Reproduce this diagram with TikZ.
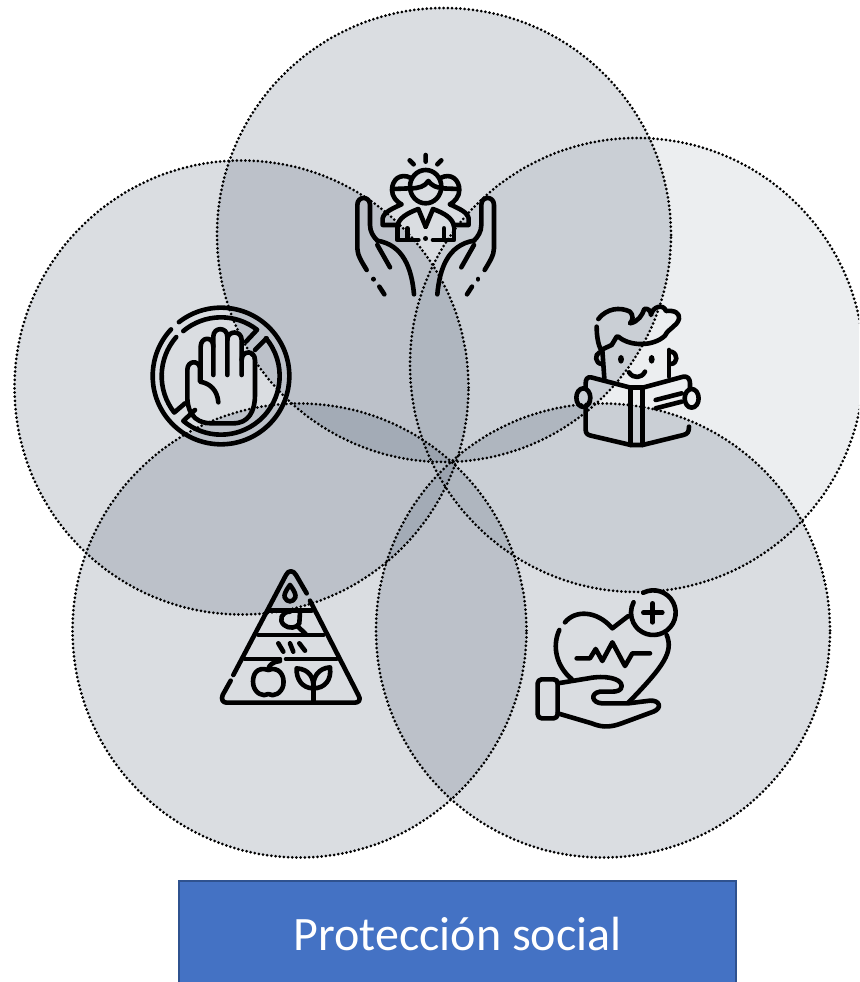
\documentclass[tikz,border=0pt]{standalone}
\usepackage{fontspec}
\setmainfont{Carlito}
\definecolor{slate}{HTML}{44546A}
\definecolor{boxblue}{HTML}{4472C4}
\definecolor{boxedge}{HTML}{2F528F}
\tikzset{
  disc/.style={fill=slate,fill opacity=0.2,draw=none},
  disclight/.style={fill=slate,fill opacity=0.10,draw=none},
  ring/.style={draw=black,line width=3pt,line cap=round,dash pattern=on 0pt off 4.2pt},
  icon/.style={draw=black,line width=4.6pt,line cap=round,line join=round},
  zoomed/.style={x=0.3333pt,y=-0.3333pt}
}
\begin{document}
\begin{tikzpicture}[x=1pt,y=-1pt]
\useasboundingbox (0,0) rectangle (859,982);
\clip (0,0) rectangle (859,982);
% discs
\coordinate (cTop) at (444,235);
\coordinate (cRight) at (637,365);
\coordinate (cLeft) at (241.5,387.5);
\coordinate (cLow) at (299.5,630.5);
\coordinate (cHigh) at (603,630.5);
\def\rad{227pt}
\fill[disc] (cTop) circle[radius=\rad];
\fill[disclight] (cRight) circle[radius=\rad];
\fill[disc] (cLeft) circle[radius=\rad];
\fill[disc] (cLow) circle[radius=\rad];
\fill[disc] (cHigh) circle[radius=\rad];
\foreach \c in {cTop,cRight,cLeft,cLow,cHigh} \draw[ring] (\c) circle[radius=\rad];
% people in hands
\begin{scope}[shift={(340,145)},zoomed,icon]
\draw (209,46)--(221,58) (257,30)--(257,50) (304,46)--(292,58);
\draw (257,125) circle[x radius=47,y radius=50];
\draw (212,130) .. controls (235,130) and (255,125) .. (265,108) .. controls (275,122) and (290,128) .. (303,128);
\foreach \m in {0,1} {
\begin{scope}[shift={(514*\m,0)},xscale=1-2*\m]
\draw (213,99) .. controls (180,82) and (156,105) .. (156,135) .. controls (156,155) and (170,170) .. (184,178);
\draw (160,132)--(210,130);
\draw (184,178) .. controls (160,190) and (132,200) .. (128,220) -- (128,240) -- (172,240);
\draw (172,240)--(172,285)--(235,285);
\draw (172,245) .. controls (175,220) and (200,205) .. (235,192) -- (257,245);
\draw (202,250)--(202,283);
\draw (80,375) .. controls (65,350) and (52,330) .. (52,310) -- (52,180) .. controls (52,152) and (90,152) .. (90,180) -- (90,240) .. controls (90,260) and (100,275) .. (112,287);
\draw (112,287) .. controls (190,300) and (215,370) .. (222,448);
\draw (112,300)--(150,367);
\draw (100,402)--(100,403);
\draw (118,425)--(133,448);
\end{scope}}
\draw (257,280)--(257,281);
\end{scope}
% stop hand
\begin{scope}[shift={(140,295)},zoomed,icon]
\coordinate (sc) at (243,243);
\draw (sc) ++(232:205 and 205) arc[start angle=232,end angle=583,radius=205];
\draw (sc) ++(230:176 and 176) arc[start angle=230,end angle=308,radius=176] -- (318,140);
\draw (sc) ++(320:176 and 176) arc[start angle=320,end angle=490,radius=176] -- (165,345);
\draw (380,130)--(345,165);
\draw (sc) ++(221:178 and 178) arc[start angle=221,end angle=142,radius=178] -- (135,325);
\draw (235,322) .. controls (232,285) and (210,265) .. (180,260) -- (180,220) .. controls (178,195) and (142,195) .. (142,225) -- (142,310) .. controls (145,370) and (180,385) .. (215,385) -- (280,385) .. controls (325,385) and (345,350) .. (345,300) -- (345,195) .. controls (345,165) and (305,165) .. (305,195);
\draw (305,240) -- (305,135) .. controls (305,105) and (262,105) .. (262,135);
\draw (262,240) -- (262,125) .. controls (262,95) and (220,95) .. (220,125) -- (220,240);
\draw (220,155) .. controls (220,122) and (182,125) .. (182,155) -- (182,258);
\end{scope}
% boy with book
\begin{scope}[shift={(565,295)},zoomed,icon]
\draw (100,72) .. controls (125,40) and (165,35) .. (195,50) .. controls (205,60) and (205,75) .. (195,85) .. controls (220,80) and (232,60) .. (238,42) .. controls (250,38) and (258,50) .. (258,60) .. controls (262,35) and (295,25) .. (303,48) .. controls (330,45) and (345,55) .. (342,72) .. controls (335,95) and (310,100) .. (300,122) .. controls (265,155) and (195,155) .. (160,125);
\draw (95,95) .. controls (95,125) and (100,150) .. (108,165) -- (140,150) -- (155,125);
\draw (112,165) -- (118,250);
\draw (312,165) -- (312,245);
\draw (104,172) .. controls (88,178) and (90,205) .. (110,207);
\draw (320,170) .. controls (340,178) and (338,205) .. (318,207);
\fill (168,193) ellipse[x radius=9,y radius=13];
\fill (260,193) ellipse[x radius=9,y radius=13];
\draw (192,232) .. controls (205,252) and (230,250) .. (240,230);
\draw (197,278) -- (78,247) .. controls (68,245) and (62,252) .. (62,265) -- (62,282);
\draw (233,278) -- (355,245) .. controls (368,243) and (375,252) .. (375,265) -- (375,282);
\draw (197,278)--(233,278);
\draw (197,278)--(197,450) (233,278)--(233,450);
\draw (62,335) -- (62,405) .. controls (62,415) and (68,420) .. (78,422) -- (197,450) -- (233,450) -- (355,420) .. controls (367,417) and (372,412) .. (372,395);
\draw (272,315)--(350,295) (272,340)--(350,320);
\draw (55,308) ellipse[x radius=21,y radius=28];
\draw (380,310) ellipse[x radius=21,y radius=28];
\end{scope}
% food pyramid
\begin{scope}[shift={(210,560)},zoomed,icon]
\draw (70,345) -- (228,45) .. controls (235,30) and (250,30) .. (258,45) -- (290,100);
\draw (300,122) -- (445,405) .. controls (455,420) and (445,428) .. (435,428) -- (50,428) .. controls (40,428) and (32,420) .. (38,405) -- (62,362);
\draw (175,152)--(305,152) (145,225)--(340,225) (105,297)--(210,297) (228,297)--(380,297);
\draw (240,75) .. controls (225,95) and (222,105) .. (224,112) .. controls (230,128) and (250,128) .. (256,112) .. controls (258,105) and (255,95) .. (240,75);
\draw (240,155) .. controls (215,155) and (205,180) .. (222,195) .. controls (235,207) and (262,205) .. (268,190) -- (270,157);
\draw (262,198)--(287,222);
\draw (205,250)--(220,275) (240,250)--(250,275) (268,250)--(285,272);
\draw (175,330) .. controls (140,318) and (125,345) .. (130,375) .. controls (135,400) and (160,412) .. (175,402) .. controls (190,412) and (215,400) .. (220,375) .. controls (225,345) and (205,318) .. (175,330);
\draw (175,330) .. controls (175,315) and (190,305) .. (210,303);
\draw (310,370)--(310,428);
\draw (260,325) .. controls (300,328) and (312,355) .. (310,385) .. controls (275,385) and (258,355) .. (260,325);
\draw (360,322) .. controls (325,325) and (308,350) .. (310,385) .. controls (345,385) and (365,360) .. (360,322);
\end{scope}
% heart in hand
\begin{scope}[shift={(525,580)},zoomed,icon]
\coordinate (hc) at (385,98);
\draw (hc) ++(243:67 and 67) arc[start angle=243,end angle=568,radius=67];
\draw (355,98)--(412,98) (383,70)--(383,127);
\draw (120,127) .. controls (150,90) and (215,90) .. (262,145) -- (310,108);
\draw (103,150) .. controls (80,200) and (95,260) .. (140,297);
\draw (425,165) .. controls (445,215) and (420,255) .. (310,368);
\draw (155,235)--(195,235)--(212,207)--(232,243)--(262,187)--(300,258)--(322,220)--(375,220);
\draw[rounded corners=4pt] (38,298)--(98,298)--(98,415)--(38,415)--cycle;
\draw (98,310) -- (190,295) .. controls (240,285) and (290,295) .. (290,318) .. controls (290,332) and (275,335) .. (260,335) -- (225,335) .. controls (195,340) and (200,368) .. (230,370) -- (310,370) -- (375,362) .. controls (405,360) and (412,385) .. (385,395) -- (290,430) .. controls (250,445) and (225,440) .. (200,430) -- (98,400);
\end{scope}
% title
\node[rectangle,draw=boxedge,line width=1.5pt,fill=boxblue,text=white,minimum width=557pt,minimum height=106pt,inner sep=0pt,font=\fontsize{48}{56}\selectfont] (title) at (457.5,934) {Protección social};
\end{tikzpicture}
\end{document}
